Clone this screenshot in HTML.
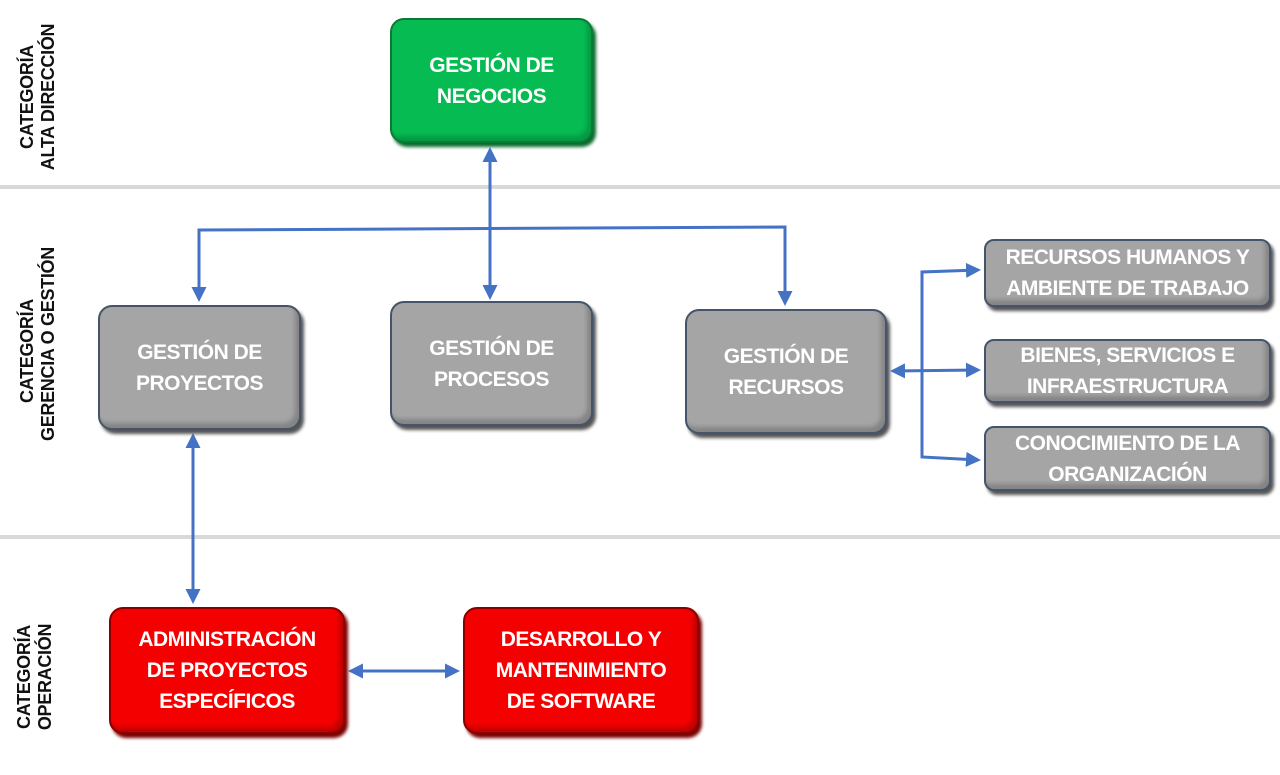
<!DOCTYPE html>
<html><head><meta charset="utf-8"><style>
body{margin:0;width:1280px;height:775px;background:#fff;position:relative;overflow:hidden;font-family:"Liberation Sans",sans-serif}
.b{position:absolute;box-sizing:border-box;border-radius:14px;display:flex;align-items:center;justify-content:center;text-align:center;color:#fff;font-weight:bold;font-size:21px;line-height:31px;letter-spacing:-0.5px}
.g{background:#06bb52;border:2px solid #0a7a35;box-shadow:3px 4px 3px #0b6b2e, inset -4px -5px 4px rgba(0,0,0,0.18)}
.y{background:#a5a5a5;border:2px solid #44546a;box-shadow:3px 4px 3px #555, inset -4px -5px 4px rgba(0,0,0,0.2)}
.r{background:#f40000;border:2px solid #8a0000;box-shadow:3px 4px 3px #7a0000, inset -4px -5px 4px rgba(0,0,0,0.2)}
.sep{position:absolute;left:0;width:1280px;height:4px;background:#d9d9d9}
.lab{position:absolute;transform:rotate(-90deg);transform-origin:center;font-weight:bold;font-size:18px;line-height:21px;color:#111;text-align:center;white-space:nowrap;letter-spacing:-0.3px}
</style></head><body>
<div class="sep" style="top:185px"></div>
<div class="sep" style="top:535px"></div>
<div class="lab" style="left:-42px;top:76px;width:160px">CATEGORÍA<br>ALTA DIRECCIÓN</div>
<div class="lab" style="left:-52px;top:330px;width:180px">CATEGORÍA<br>GERENCIA O GESTIÓN</div>
<div class="lab" style="left:-45px;top:656px;width:160px">CATEGORÍA<br>OPERACIÓN</div>
<svg width="1280" height="775" style="position:absolute;left:0;top:0">
<defs><marker id="a" markerWidth="5" markerHeight="5" refX="4" refY="2.5" orient="auto-start-reverse" markerUnits="strokeWidth"><path d="M0,0L5,2.5L0,5z" fill="#4472c4"/></marker></defs>
<g stroke="#4472c4" stroke-width="3" fill="none">
<line x1="490" y1="150" x2="490" y2="297" marker-start="url(#a)" marker-end="url(#a)"/>
<polyline points="199,299 199,230 785,227 785,303" marker-start="url(#a)" marker-end="url(#a)"/>
<line x1="193" y1="436" x2="193" y2="601" marker-start="url(#a)" marker-end="url(#a)"/>
<line x1="351" y1="671" x2="457" y2="671" marker-start="url(#a)" marker-end="url(#a)"/>
<line x1="893" y1="371" x2="978" y2="370" marker-start="url(#a)" marker-end="url(#a)"/>
<polyline points="978,270 922,272 922,457 978,460" marker-start="url(#a)" marker-end="url(#a)"/>
</g></svg>
<div class="b g" style="left:390px;top:18px;width:203px;height:125px">GESTIÓN DE<br>NEGOCIOS</div>
<div class="b y" style="left:98px;top:305px;width:203px;height:125px">GESTIÓN DE<br>PROYECTOS</div>
<div class="b y" style="left:390px;top:301px;width:203px;height:125px">GESTIÓN DE<br>PROCESOS</div>
<div class="b y" style="left:685px;top:309px;width:202px;height:125px">GESTIÓN DE<br>RECURSOS</div>
<div class="b y" style="left:984px;top:239px;width:287px;height:68px;border-radius:10px">RECURSOS HUMANOS Y<br>AMBIENTE DE TRABAJO</div>
<div class="b y" style="left:984px;top:339px;width:287px;height:64px;border-radius:10px">BIENES, SERVICIOS E<br>INFRAESTRUCTURA</div>
<div class="b y" style="left:984px;top:426px;width:287px;height:65px;border-radius:10px">CONOCIMIENTO DE LA<br>ORGANIZACIÓN</div>
<div class="b r" style="left:109px;top:607px;width:236px;height:127px">ADMINISTRACIÓN<br>DE PROYECTOS<br>ESPECÍFICOS</div>
<div class="b r" style="left:463px;top:607px;width:236px;height:127px">DESARROLLO Y<br>MANTENIMIENTO<br>DE SOFTWARE</div>
</body></html>
